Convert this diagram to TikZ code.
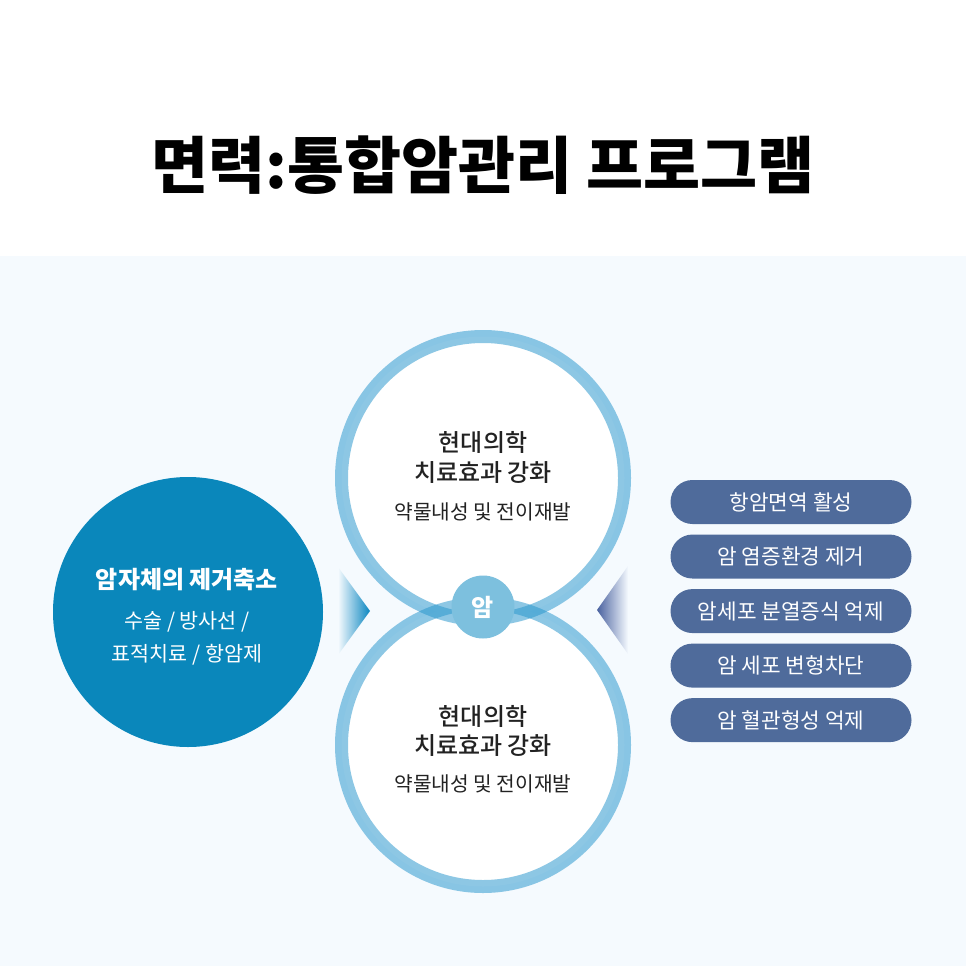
\documentclass[tikz,border=0pt]{standalone}
\usepackage{fontspec}
\setmainfont{Noto Sans CJK KR}
\newfontfamily\krmedium{Noto Sans CJK KR Medium}
\usetikzlibrary{positioning,shapes.misc}

\definecolor{bgblue}{HTML}{F5FAFE}
\definecolor{ringblue}{RGB}{40,150,205}
\definecolor{deepblue}{HTML}{0A87BB}
\definecolor{pillblue}{HTML}{4F6B9B}
\definecolor{badgeblue}{HTML}{7DC0DE}
\definecolor{tipblue}{HTML}{0A86C0}
\definecolor{tipnavy}{HTML}{4A62A0}
\definecolor{inktext}{HTML}{222222}

\begin{document}
\begin{tikzpicture}[x=0.75pt, y=-0.75pt,
  disc/.style={circle, fill=white, minimum size=212.25pt, inner sep=0pt},
  ring/.style={circle, draw=ringblue, draw opacity=0.53, line width=9.75pt, minimum size=212.25pt, inner sep=0pt},
  headline/.style={text=inktext, font=\krmedium\fontsize{18}{21}\selectfont},
  noteline/.style={text=inktext, font=\fontsize{15.2}{18}\selectfont},
  pill/.style={rounded rectangle, fill=pillblue, text=white, minimum width=180.75pt, minimum height=33pt, inner sep=0pt, font=\fontsize{16}{19}\selectfont}]

\fill[white] (0,0) rectangle (966,256);
\fill[bgblue] (0,256) rectangle (966,966);
\useasboundingbox (0,0) rectangle (966,966);

\node[font=\bfseries\fontsize{46.5}{50}\selectfont] (title) at (483,165) {면력:통합암관리 프로그램};

\node[circle, fill=deepblue, minimum size=202.5pt, inner sep=0pt] (leftc) at (188,612) {};
\node[text=white, font=\bfseries\fontsize{18}{21}\selectfont] (lefthead) at (187,580) {암자체의 제거축소};
\node[text=white, font=\fontsize{15.5}{18}\selectfont] (leftnote1) at (187,622) {수술 / 방사선 /};
\node[text=white, font=\fontsize{15.5}{18}\selectfont] (leftnote2) at (187,655) {표적치료 / 항암제};

\node[disc] (topfill) at (483,478) {};
\node[disc] (botfill) at (483,745) {};
\node[ring] (topc) at (483,478) {};
\node[ring] (botc) at (483,745) {};

\node[headline] (tophead1) at (483,442) {현대의학};
\node[headline] (tophead2) at (483,473) {치료효과 강화};
\node[noteline] (topnote) at (483,512) {약물내성 및 전이재발};
\node[headline] (bothead1) at (483,716) {현대의학};
\node[headline] (bothead2) at (483,746) {치료효과 강화};
\node[noteline] (botnote) at (483,784) {약물내성 및 전이재발};

\node[circle, fill=badgeblue, minimum size=47.25pt, inner sep=0pt, text=white, font=\bfseries\fontsize{18}{20}\selectfont] (badge) at (483,607) {암};

\shade[left color=bgblue, right color=tipblue] (338,567) -- (370,611) -- (338,655) -- cycle;
\shade[left color=tipnavy, right color=bgblue] (628,566) -- (597,610) -- (628,654) -- cycle;

\node[pill] (pill1) at (791,502) {항암면역 활성};
\node[pill, below=7.5pt of pill1] (pill2) {암 염증환경 제거};
\node[pill, below=7.5pt of pill2] (pill3) {암세포 분열증식 억제};
\node[pill, below=7.5pt of pill3] (pill4) {암 세포 변형차단};
\node[pill, below=7.5pt of pill4] (pill5) {암 혈관형성 억제};
\end{tikzpicture}
\end{document}
